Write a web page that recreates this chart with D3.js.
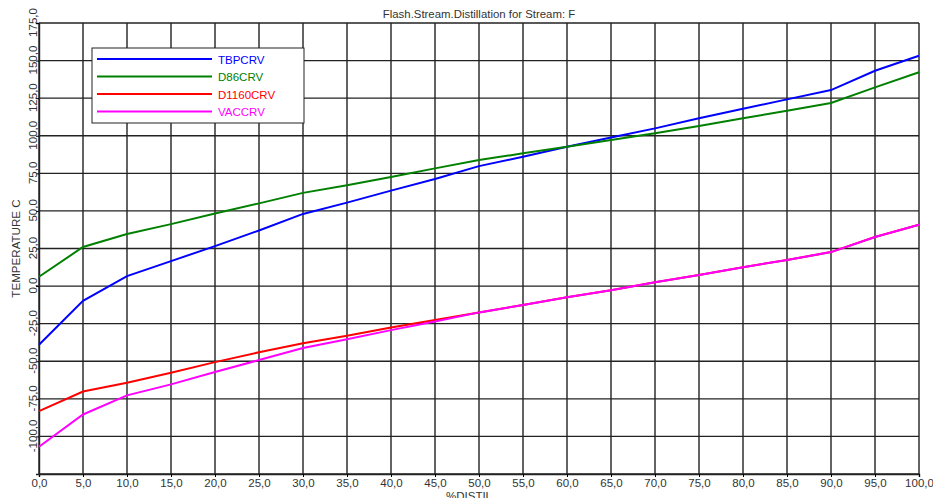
<!DOCTYPE html>
<html>
<head>
<meta charset="utf-8">
<script src="https://cdn.jsdelivr.net/npm/d3@7"></script>
<style>
  body { margin: 0; background: #fff; }
  text { font-family: "Liberation Sans", Arial, sans-serif; }
</style>
</head>
<body>
<svg id="chart" width="933" height="498"></svg>
<script>
// %distilled points
var pct = [0, 5, 10, 15, 20, 25, 30, 35, 40, 45, 50, 55, 60, 65, 70, 75, 80, 85, 90, 95, 100];

// temperatures, C
var tbp   = [-39, -9.8, 6.6, 16.6, 26.6, 37, 48, 55.5, 63.5, 71.2, 79.8, 86, 92.7, 98.9, 104.9, 111.6, 118, 124.2, 130.4, 143.2, 153.2];
var d86   = [6.2, 26, 34.6, 41.2, 48.3, 55, 62, 67, 72.5, 78.3, 83.8, 88.3, 92.7, 97.1, 101.6, 106.5, 111.6, 116.6, 121.8, 132.2, 142.2];
var d1160 = [-83.2, -70.1, -64.3, -57.7, -50.6, -44, -38, -33, -27.6, -22.6, -17.5, -12.6, -7.5, -2.7, 2.5, 7.4, 12.6, 17.4, 22.6, 32.6, 40.8];
var vac   = [-106.9, -85.4, -72.7, -65.4, -57.2, -49.2, -41.2, -35.3, -29.3, -23.5, -17.5, -12.6, -7.5, -2.7, 2.5, 7.4, 12.6, 17.4, 22.6, 32.6, 40.8];

var seriesNames = ["TBPCRV", "D86CRV", "D1160CRV", "VACCRV"];
var seriesColors = ["#0000ff", "#008000", "#ff0000", "#ff00ff"];
var seriesData = [tbp, d86, d1160, vac];

var xTicks = d3.range(0, 101, 5);
var yTicks = d3.range(-100, 176, 25);

var svg = d3.select("#chart");
var mLeft = 39, mRight = 919, mTop = 23, mBottom = 474;

var x = d3.scaleLinear().domain([0, 100]).range([mLeft, mRight]);
var y = d3.scaleLinear().domain([-125, 175]).range([mBottom, mTop]);

var fmt = function (v) { return d3.format(".1f")(v).replace(".", ",").replace("\u2212", "-"); };

// grid
var grid = svg.append("g").attr("stroke", "#222").attr("stroke-width", 1.4);
grid.selectAll("line.v").data(xTicks).enter().append("line")
  .attr("x1", d => x(d)).attr("x2", d => x(d))
  .attr("y1", mTop).attr("y2", mBottom);
grid.selectAll("line.h").data(d3.range(-125, 176, 25)).enter().append("line")
  .attr("x1", mLeft).attr("x2", mRight)
  .attr("y1", d => y(d)).attr("y2", d => y(d));

// x axis
var xAxis = svg.append("g")
  .attr("transform", "translate(0," + mBottom + ")")
  .call(d3.axisBottom(x).tickValues(xTicks).tickFormat(fmt).tickSize(3));
xAxis.select(".domain").attr("stroke", "#222").attr("stroke-width", 1.4);
xAxis.selectAll("text").attr("font-size", 11.5).attr("fill", "#333")
  .attr("font-family", "Liberation Sans, Arial, sans-serif").attr("dy", "0.65em");

// y axis
var yAxis = svg.append("g")
  .attr("transform", "translate(" + mLeft + ",0)")
  .call(d3.axisLeft(y).tickValues(yTicks).tickFormat(fmt).tickSize(3));
yAxis.select(".domain").attr("stroke", "#222").attr("stroke-width", 1.4);
yAxis.selectAll(".tick text")
  .attr("font-size", 11.5).attr("fill", "#333")
  .attr("font-family", "Liberation Sans, Arial, sans-serif")
  .attr("x", 0).attr("dy", 0)
  .attr("text-anchor", "middle")
  .attr("transform", "translate(-2,-1) rotate(-90)");

// lines
var line = d3.line().x((d, i) => x(pct[i])).y(d => y(d));
svg.selectAll("path.series").data(seriesData).enter().append("path")
  .attr("class", "series")
  .attr("fill", "none")
  .attr("stroke", (d, i) => seriesColors[i])
  .attr("stroke-width", 2)
  .attr("d", line);

// titles
svg.append("text").attr("x", (mLeft + mRight) / 2).attr("y", 18)
  .attr("text-anchor", "middle").attr("font-size", 11.4).attr("fill", "#333")
  .text("Flash.Stream.Distillation for Stream: F");
svg.append("text").attr("x", (mLeft + mRight) / 2 - 10).attr("y", 500)
  .attr("text-anchor", "middle").attr("font-size", 11.5).attr("fill", "#333")
  .text("%DISTIL");
svg.append("text")
  .attr("transform", "translate(20," + (mTop + mBottom) / 2 + ") rotate(-90)")
  .attr("text-anchor", "middle").attr("font-size", 11.6).attr("fill", "#333")
  .text("TEMPERATURE C");

// legend
var lg = svg.append("g").attr("transform", "translate(92,48)");
lg.append("rect").attr("width", 212).attr("height", 75)
  .attr("fill", "#fff").attr("stroke", "#222").attr("stroke-width", 1);
seriesNames.forEach(function (name, i) {
  var yy = 11 + i * 17.5;
  lg.append("line").attr("x1", 5).attr("x2", 120).attr("y1", yy).attr("y2", yy)
    .attr("stroke", seriesColors[i]).attr("stroke-width", 2);
  lg.append("text").attr("x", 126).attr("y", yy + 4.5)
    .attr("font-size", 11.5).attr("fill", seriesColors[i]).text(name);
});
</script>
</body>
</html>
